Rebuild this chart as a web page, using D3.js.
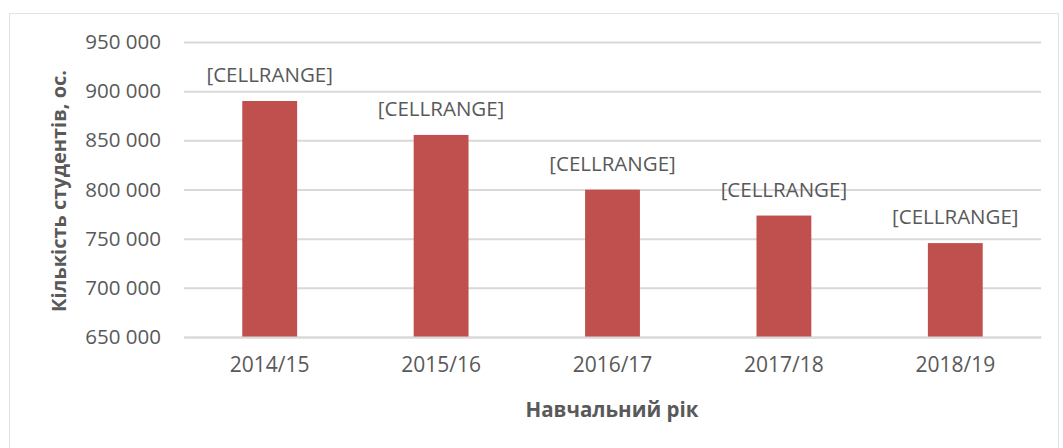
<!DOCTYPE html>
<html>
<head>
<meta charset="utf-8">
<script src="https://cdn.jsdelivr.net/npm/d3@7"></script>
<style>
  body { margin: 0; background: #fff; }
  text { font-family: "Open Sans", sans-serif; fill: #595959; }
</style>
</head>
<body>
<div id="chart"></div>
<script>
// data
let years = ['2014/15', '2015/16', '2016/17', '2017/18', '2018/19'];
let students = [890000, 855500, 799800, 773500, 745500];
let labels = ['[CELLRANGE]', '[CELLRANGE]', '[CELLRANGE]', '[CELLRANGE]', '[CELLRANGE]'];
let yTicks = [650000, 700000, 750000, 800000, 850000, 900000, 950000];

let W = 1063, H = 448;
let margin = {top: 42, right: 22, bottom: 111, left: 184};
let width = W - margin.left - margin.right;
let height = H - margin.top - margin.bottom;

let svg = d3.select('#chart').append('svg')
    .attr('width', W)
    .attr('height', H);

// chart frame
svg.append('rect')
    .attr('x', 9.5).attr('y', 13.5)
    .attr('width', 1049).attr('height', 440)
    .attr('fill', 'none')
    .attr('stroke', '#e3e3e3');

let plot = svg.append('g')
    .attr('transform', 'translate(' + margin.left + ',' + margin.top + ')');

let x = d3.scaleBand().domain(years).range([0, width]).paddingInner(0.68).paddingOuter(0.34);
let y = d3.scaleLinear().domain([650000, 950000]).range([height, 0]);

let fmt = d => d3.format(',')(d).replace(/,/g, ' ');

// grid + y labels
let yAxis = plot.append('g')
    .call(d3.axisLeft(y).tickValues(yTicks).tickSize(-width).tickFormat(fmt).tickPadding(23));
yAxis.select('.domain').remove();
yAxis.selectAll('line').attr('stroke', '#d9d9d9').attr('stroke-width', 2);
yAxis.selectAll('text').style('font-size', '20.5px').attr('fill', '#595959');

// bars
plot.selectAll('rect.bar')
    .data(years)
    .enter().append('rect')
    .attr('class', 'bar')
    .attr('x', d => x(d))
    .attr('width', x.bandwidth())
    .attr('y', (d, i) => y(students[i]))
    .attr('height', (d, i) => height - y(students[i]))
    .attr('fill', '#C0504D');

// data labels
plot.selectAll('text.lbl')
    .data(years)
    .enter().append('text')
    .attr('class', 'lbl')
    .attr('x', d => x(d) + x.bandwidth() / 2)
    .attr('y', (d, i) => y(students[i]) - 19)
    .attr('text-anchor', 'middle')
    .style('font-size', '20.5px')
    .text((d, i) => labels[i]);

// x axis
let xAxis = plot.append('g')
    .attr('transform', 'translate(0,' + height + ')')
    .call(d3.axisBottom(x).tickSize(0).tickPadding(20));
xAxis.select('.domain').attr('stroke', '#d9d9d9').attr('stroke-width', 2);
xAxis.selectAll('text').style('font-size', '21px').attr('fill', '#595959');

// axis titles
svg.append('text')
    .attr('x', 612).attr('y', 417)
    .attr('text-anchor', 'middle')
    .style('font-size', '20.5px')
    .style('font-weight', 'bold')
    .text('Навчальний рік');

svg.append('text')
    .attr('transform', 'translate(66,191) rotate(-90)')
    .attr('text-anchor', 'middle')
    .style('font-size', '20px')
    .style('font-weight', 'bold')
    .text('Кількість студентів, ос.');
</script>
</body>
</html>
